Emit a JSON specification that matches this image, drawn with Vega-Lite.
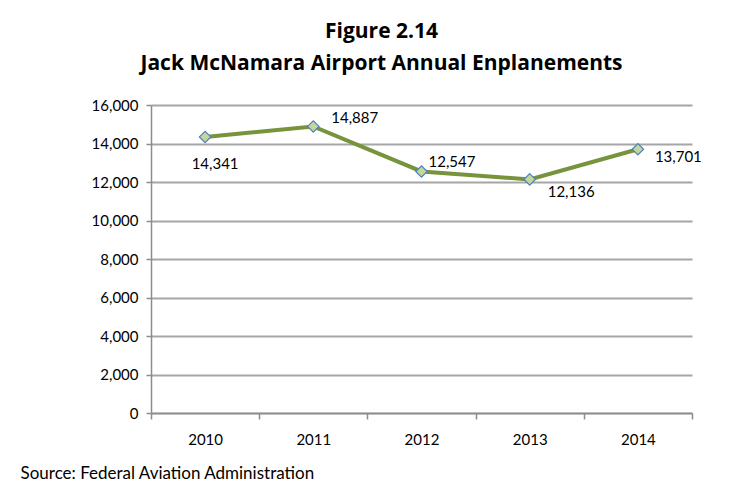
{
  "$schema": "https://vega.github.io/schema/vega-lite/v6.json",
  "width": 541,
  "height": 308,
  "autosize": "none",
  "padding": {"left": 151, "top": 105, "right": 49, "bottom": 77},
  "background": "white",
  "config": {
    "font": "Lato",
    "view": {"stroke": null}
  },
  "title": {
    "text": ["Figure 2.14", "Jack McNamara Airport Annual Enplanements"],
    "fontSize": 21,
    "fontWeight": "bold",
    "font": "Open Sans",
    "color": "#000000",
    "lineHeight": 32,
    "anchor": "middle",
    "dx": -40,
    "offset": 24
  },
  "data": {
    "values": [
      {"year": "2010", "value": 14341},
      {"year": "2011", "value": 14887},
      {"year": "2012", "value": 12547},
      {"year": "2013", "value": 12136},
      {"year": "2014", "value": 13701}
    ]
  },
  "encoding": {
    "x": {
      "field": "year",
      "type": "ordinal",
      "scale": {"paddingInner": 0, "paddingOuter": 0},
      "axis": {
        "title": "Source: Federal Aviation Administration",
        "titleX": -131,
        "titleY": 65,
        "titleAlign": "left",
        "titleAnchor": "start",
        "titleBaseline": "alphabetic",
        "titleFontSize": 17,
        "titleFontWeight": "normal",
        "titleColor": "#000000",
        "titleFont": "Lato",
        "labelAngle": 0,
        "labelFontSize": 15,
        "labelColor": "#000000",
        "labelPadding": 13,
        "tickBand": "extent",
        "tickSize": 6,
        "tickColor": "#8c8c8c",
        "domainColor": "#8c8c8c",
        "domainWidth": 1.5,
        "tickWidth": 1.5,
        "grid": false
      }
    },
    "y": {
      "field": "value",
      "type": "quantitative",
      "scale": {"domain": [0, 16000], "nice": false},
      "axis": {
        "title": null,
        "values": [0, 2000, 4000, 6000, 8000, 10000, 12000, 14000, 16000],
        "format": ",.0f",
        "labelFontSize": 15,
        "labelColor": "#000000",
        "labelPadding": 8,
        "tickSize": 5,
        "tickColor": "#8c8c8c",
        "domainColor": "#8c8c8c",
        "domainWidth": 1.5,
        "tickWidth": 1.5,
        "grid": true,
        "gridColor": "#a6a6a6",
        "gridWidth": 2
      }
    }
  },
  "layer": [
    {
      "mark": {"type": "line", "color": "#77933c", "strokeWidth": 4}
    },
    {
      "mark": {"type": "point", "shape": "diamond", "filled": true, "fill": "#c3d69b", "stroke": "#4f81bd", "strokeWidth": 1.2, "size": 130, "opacity": 1}
    },
    {
      "transform": [{"filter": "datum.year == '2010'"}],
      "mark": {"type": "text", "align": "center", "dx": 10, "dy": 27, "fontSize": 15, "color": "#000000"},
      "encoding": {"text": {"field": "value", "format": ","}}
    },
    {
      "transform": [{"filter": "datum.year == '2011'"}],
      "mark": {"type": "text", "align": "left", "dx": 18, "dy": -8, "fontSize": 15, "color": "#000000"},
      "encoding": {"text": {"field": "value", "format": ","}}
    },
    {
      "transform": [{"filter": "datum.year == '2012'"}],
      "mark": {"type": "text", "align": "left", "dx": 7, "dy": -9, "fontSize": 15, "color": "#000000"},
      "encoding": {"text": {"field": "value", "format": ","}}
    },
    {
      "transform": [{"filter": "datum.year == '2013'"}],
      "mark": {"type": "text", "align": "left", "dx": 18, "dy": 13, "fontSize": 15, "color": "#000000"},
      "encoding": {"text": {"field": "value", "format": ","}}
    },
    {
      "transform": [{"filter": "datum.year == '2014'"}],
      "mark": {"type": "text", "align": "left", "dx": 17, "dy": 8, "fontSize": 15, "color": "#000000"},
      "encoding": {"text": {"field": "value", "format": ","}}
    }
  ]
}
